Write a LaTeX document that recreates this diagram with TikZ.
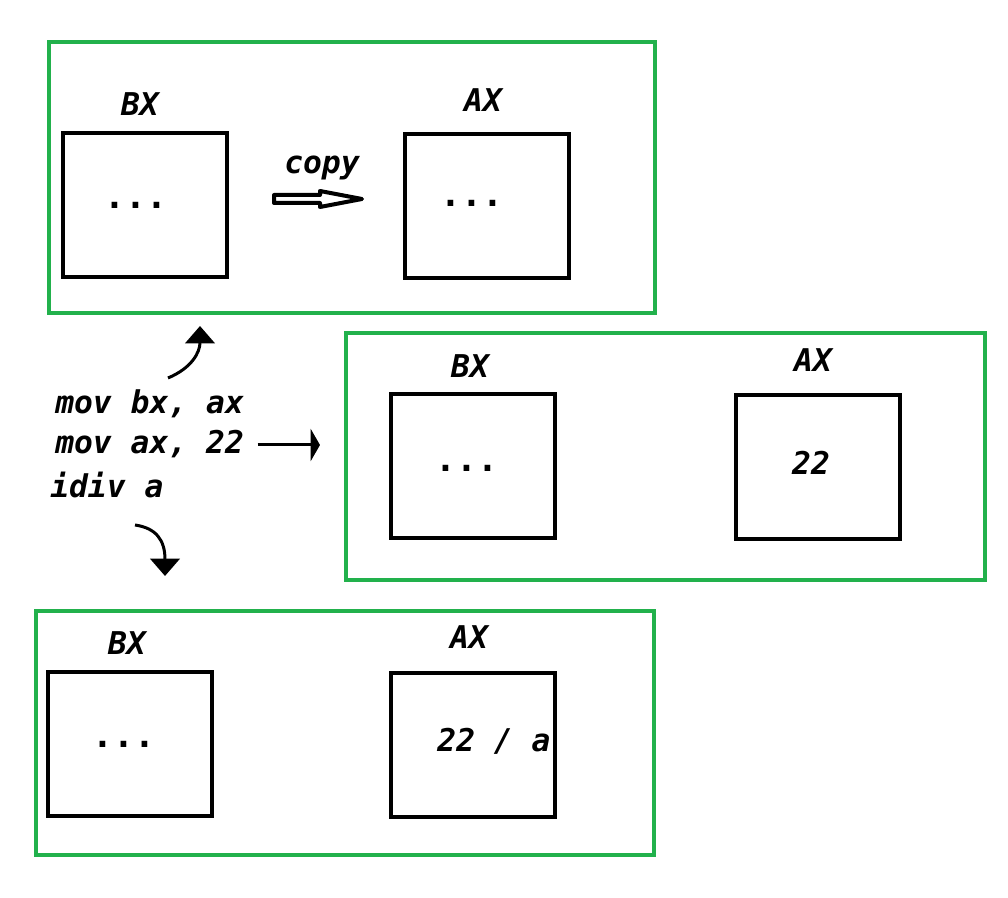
\documentclass[tikz,border=0pt]{standalone}
\usepackage{fontspec}
\setmonofont{DejaVu Sans Mono}[BoldFont={* Bold}, ItalicFont={* Oblique}, BoldItalicFont={* Bold Oblique}]
\usepackage{xcolor}
\definecolor{colFrame}{RGB}{34,177,76}
\usepackage{tikz}
\usetikzlibrary{arrows.meta, positioning}

\tikzset{
  frame/.style={draw=colFrame, line width=3pt},
  reg/.style={draw=black, line width=3pt, minimum width=123pt, minimum height=108pt, inner sep=0pt},
  lbl/.style={font=\fontsize{23.5}{28}\selectfont\ttfamily\bfseries\itshape, inner sep=0pt},
  dots/.style={font=\fontsize{26}{28}\selectfont\ttfamily\bfseries, inner sep=0pt},
  curvearr/.style={line width=2.25pt, -{Triangle[width=22pt,length=13pt]}},
}

\begin{document}
\begin{tikzpicture}[x=0.75pt, y=-0.75pt]
  \useasboundingbox (0,0) rectangle (1008,898);

  % frames
  \draw[frame] (49,42) rectangle (655,313);
  \draw[frame] (346,333) rectangle (985,580);
  \draw[frame] (36,611) rectangle (654,855);

  % first state: bx <- ax
  \node[reg] (bxA) at (145,205) {};
  \node[reg] (axA) at (487,206) {};
  \node[lbl] (bxAl) at (140,104) {BX};
  \node[lbl] (axAl) at (483,100) {AX};
  \node[dots] (bxAv) at (136,205) {...};
  \node[dots] (axAv) at (472,203) {...};
  \node[lbl] (cpy) at (322,168) {copy};
  \draw[line width=3pt, line join=round]
    (274,195) -- (320,195) -- (320,191) -- (362,199) -- (320,207) -- (320,203) -- (274,203) -- cycle;

  % second state: ax <- 22
  \node[reg] (bxB) at (473,466) {};
  \node[reg] (axB) at (818,467) {};
  \node[lbl] (bxBl) at (470,366) {BX};
  \node[lbl] (axBl) at (813,360) {AX};
  \node[dots] (bxBv) at (467,468) {...};
  \node[lbl] (axBv) at (811,463) {22};

  % third state: idiv
  \node[reg] (bxC) at (130,744) {};
  \node[reg] (axC) at (473,745) {};
  \node[lbl] (bxCl) at (127,643) {BX};
  \node[lbl] (axCl) at (469,637) {AX};
  \node[dots] (bxCv) at (124,744) {...};
  \node[lbl] (axCv) at (494,741) {22 / a};

  % code
  \node[lbl, anchor=base west] (code1) at (55,414) {mov bx, ax};
  \node[lbl, anchor=base west] (code2) at (55,454) {mov ax, 22};
  \node[lbl, anchor=base west] (code3) at (50,498) {idiv a};

  \coordinate (upS) at (168,378);
  \coordinate (upE) at (200,326);
  \coordinate (midE) at (320,445);
  \coordinate (dnS) at (135,525);
  \coordinate (dnE) at (165,576);

  \draw[curvearr] (upS) .. controls (192,368) and (200,352) .. (upE);
  \draw[line width=2.25pt, -{Triangle[width=24pt,length=7pt]}] ([xshift=10pt]code2.east |- midE) -- (midE);
  \draw[curvearr] (dnS) .. controls (156,528) and (165,540) .. (dnE);
\end{tikzpicture}
\end{document}
